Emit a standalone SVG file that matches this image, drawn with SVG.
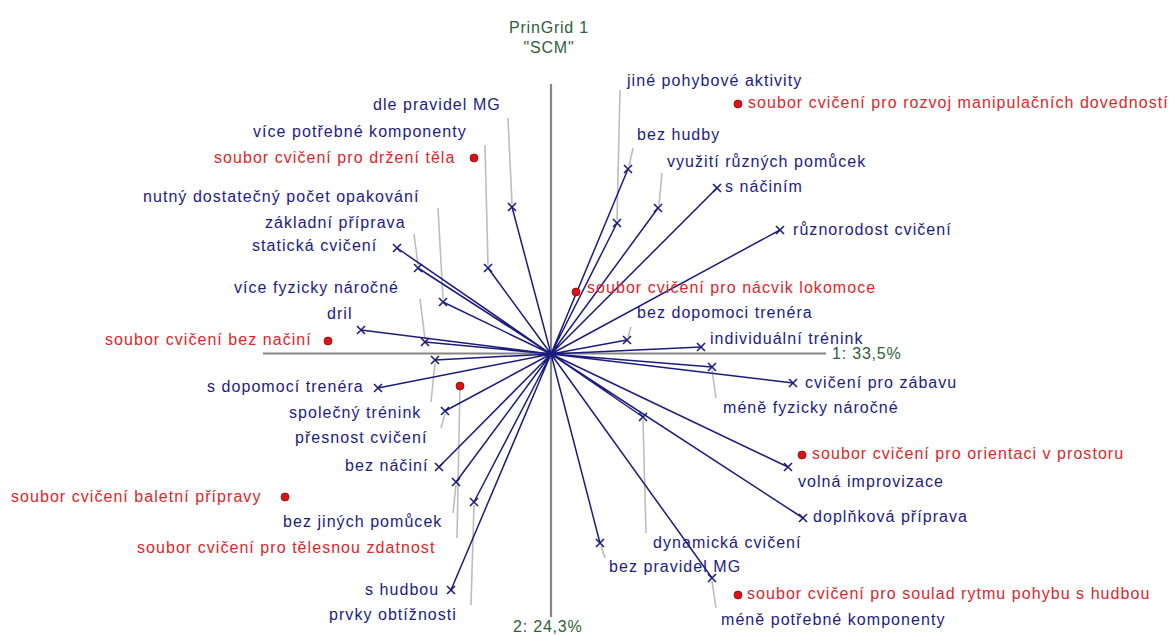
<svg xmlns="http://www.w3.org/2000/svg" width="1171" height="635" viewBox="0 0 1171 635">
<style>
text{font-family:"Liberation Sans",Arial,sans-serif;font-size:16px;letter-spacing:1.05px}
.c{fill:#1c1c86}
.e{fill:#e0262a}
.t{fill:#2f5e3a;letter-spacing:0.8px}
.ax{stroke:#858585;stroke-width:2.2;fill:none}
.ld{stroke:#bdbdbd;stroke-width:1.6;fill:none}
.ln{stroke:#1c1c7e;stroke-width:1.5;fill:none}
.dot{fill:#d81418;stroke:#a00000;stroke-width:0.8}
</style>
<defs>
<path id="x" d="M-4,-4L4,4M-4,4L4,-4" stroke="#1c1c7e" stroke-width="1.6" fill="none"/>
</defs>
<rect width="1171" height="635" fill="#ffffff"/>
<g id="axes">
<line class="ax" x1="263" y1="353.5" x2="826" y2="353.5"/>
<line class="ax" x1="551" y1="84" x2="551" y2="617"/>
<text class="t" x="549" y="33" text-anchor="middle">PrinGrid 1</text>
<text class="t" x="549" y="53" text-anchor="middle">"SCM"</text>
<text class="t" x="832" y="359">1: 33,5%</text>
<text class="t" x="513" y="632">2: 24,3%</text>
</g>
<g id="leaders">
<line class="ld" x1="508" y1="118" x2="512" y2="204"/>
<line class="ld" x1="485" y1="145" x2="488" y2="265"/>
<line class="ld" x1="414" y1="234" x2="418" y2="265"/>
<line class="ld" x1="438" y1="208" x2="443" y2="299"/>
<line class="ld" x1="420" y1="299" x2="425" y2="339"/>
<line class="ld" x1="435" y1="363" x2="431" y2="402"/>
<line class="ld" x1="441" y1="428" x2="445" y2="414"/>
<line class="ld" x1="453" y1="513" x2="456" y2="485"/>
<line class="ld" x1="471" y1="605" x2="474" y2="505"/>
<line class="ld" x1="633" y1="148" x2="629" y2="166"/>
<line class="ld" x1="620" y1="90" x2="617" y2="220"/>
<line class="ld" x1="662" y1="173" x2="659" y2="205"/>
<line class="ld" x1="631" y1="327" x2="628" y2="337"/>
<line class="ld" x1="712" y1="370" x2="716" y2="398"/>
<line class="ld" x1="643" y1="420" x2="646" y2="533"/>
<line class="ld" x1="601" y1="546" x2="605" y2="558"/>
<line class="ld" x1="712" y1="581" x2="716" y2="608"/>
<line class="ld" x1="460" y1="386" x2="457" y2="538"/>
</g>
<g id="connectors">
<path class="ln" d="M551,354L628,169M551,354L617,223M551,354L658,208M551,354L717,188M551,354L780,230M551,354L627,340M551,354L701,347M551,354L712,367M551,354L793,383M551,354L643,417M551,354L788,467M551,354L803,518M551,354L600,543M551,354L712,578M551,354L512,207M551,354L488,268M551,354L397,248M551,354L418,268M551,354L443,302M551,354L361,330M551,354L425,342M551,354L435,360M551,354L378,388M551,354L445,411M551,354L439,467M551,354L456,482M551,354L474,502M551,354L451,590"/>
</g>
<g id="markers">
<use href="#x" x="628" y="169"/><use href="#x" x="617" y="223"/><use href="#x" x="658" y="208"/><use href="#x" x="717" y="188"/><use href="#x" x="780" y="230"/><use href="#x" x="627" y="340"/><use href="#x" x="701" y="347"/><use href="#x" x="712" y="367"/><use href="#x" x="793" y="383"/><use href="#x" x="643" y="417"/><use href="#x" x="788" y="467"/><use href="#x" x="803" y="518"/><use href="#x" x="600" y="543"/><use href="#x" x="712" y="578"/><use href="#x" x="512" y="207"/><use href="#x" x="488" y="268"/><use href="#x" x="397" y="248"/><use href="#x" x="418" y="268"/><use href="#x" x="443" y="302"/><use href="#x" x="361" y="330"/><use href="#x" x="425" y="342"/><use href="#x" x="435" y="360"/><use href="#x" x="378" y="388"/><use href="#x" x="445" y="411"/><use href="#x" x="439" y="467"/><use href="#x" x="456" y="482"/><use href="#x" x="474" y="502"/><use href="#x" x="451" y="590"/>
</g>
<g id="constructs">
<text class="c" x="627" y="86">jiné pohybové aktivity</text>
<text class="c" x="373" y="110">dle pravidel MG</text>
<text class="c" x="253" y="137">více potřebné komponenty</text>
<text class="c" x="637" y="140">bez hudby</text>
<text class="c" x="667" y="167">využití různých pomůcek</text>
<text class="c" x="725" y="192">s náčiním</text>
<text class="c" x="143" y="202">nutný dostatečný počet opakování</text>
<text class="c" x="265" y="228">základní příprava</text>
<text class="c" x="793" y="235">různorodost cvičení</text>
<text class="c" x="252" y="251">statická cvičení</text>
<text class="c" x="234" y="293">více fyzicky náročné</text>
<text class="c" x="637" y="318">bez dopomoci trenéra</text>
<text class="c" x="327" y="319">dril</text>
<text class="c" x="710" y="344">individuální trénink</text>
<text class="c" x="805" y="388">cvičení pro zábavu</text>
<text class="c" x="207" y="392">s dopomocí trenéra</text>
<text class="c" x="723" y="413">méně fyzicky náročné</text>
<text class="c" x="289" y="418">společný trénink</text>
<text class="c" x="295" y="443">přesnost cvičení</text>
<text class="c" x="345" y="471">bez náčiní</text>
<text class="c" x="798" y="487">volná improvizace</text>
<text class="c" x="813" y="522">doplňková příprava</text>
<text class="c" x="283" y="527">bez jiných pomůcek</text>
<text class="c" x="653" y="548">dynamická cvičení</text>
<text class="c" x="609" y="572">bez pravidel MG</text>
<text class="c" x="365" y="595">s hudbou</text>
<text class="c" x="329" y="620">prvky obtížnosti</text>
<text class="c" x="721" y="625">méně potřebné komponenty</text>
</g>
<g id="elements">
<g id="el1"><circle class="dot" cx="738" cy="104" r="4"/><text class="e" x="748" y="108">soubor cvičení  pro rozvoj manipulačních dovedností</text></g>
<g id="el2"><circle class="dot" cx="474" cy="158" r="4"/><text class="e" x="214" y="163">soubor cvičení pro držení těla</text></g>
<g id="el3"><circle class="dot" cx="576" cy="292" r="4"/><text class="e" x="587" y="293">soubor cvičení pro nácvik lokomoce</text></g>
<g id="el4"><circle class="dot" cx="328" cy="341" r="4"/><text class="e" x="105" y="345">soubor cvičení bez načiní</text></g>
<g id="el5"><circle class="dot" cx="460" cy="386" r="4"/><text class="e" x="137" y="553">soubor cvičení  pro tělesnou zdatnost</text></g>
<g id="el6"><circle class="dot" cx="285" cy="497" r="4"/><text class="e" x="11" y="502">soubor cvičení baletní přípravy</text></g>
<g id="el7"><circle class="dot" cx="802" cy="455" r="4"/><text class="e" x="812" y="459">soubor cvičení  pro orientaci v prostoru</text></g>
<g id="el8"><circle class="dot" cx="738" cy="595" r="4"/><text class="e" x="747" y="599">soubor cvičení pro soulad rytmu pohybu s hudbou</text></g>
</g>
</svg>
